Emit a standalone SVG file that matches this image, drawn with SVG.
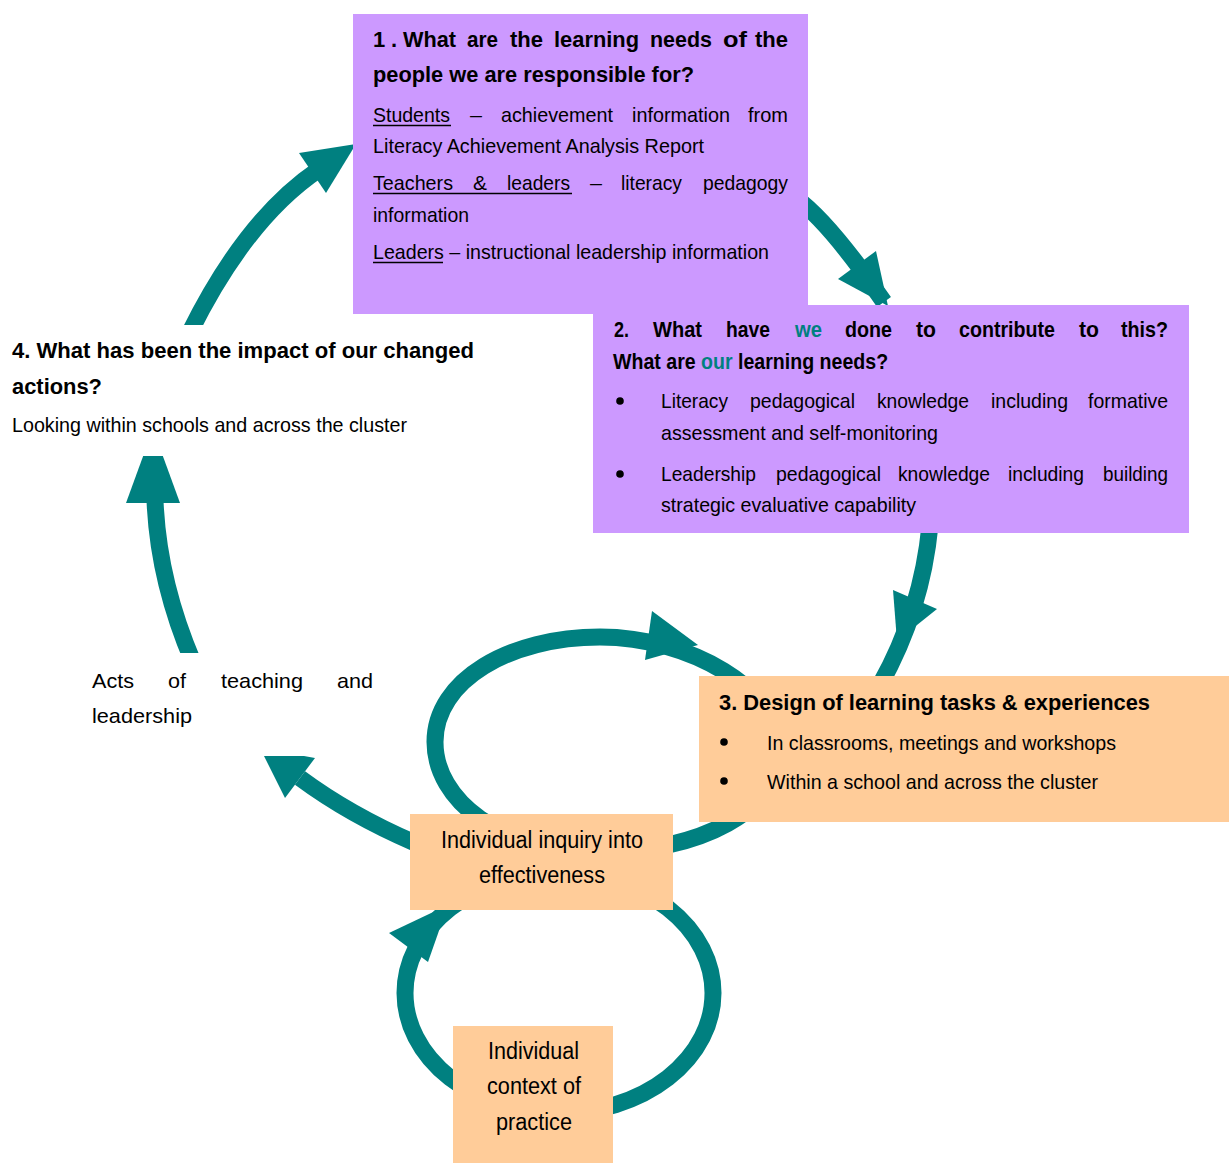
<svg xmlns="http://www.w3.org/2000/svg" width="1229" height="1163" viewBox="0 0 1229 1163">
<style>
text{font-family:"Liberation Sans Narrow","Liberation Sans",Arial,sans-serif;font-size:21px;fill:#000}
.b{font-weight:bold;font-size:22px}
.tl{fill:#008080}
.big{font-size:23px}
.shaft{fill:none;stroke:#008080;stroke-width:17}
.head{fill:#008080}
.purple{fill:#CC99FF}
.orange{fill:#FFCC99}
.ul{stroke:#000;stroke-width:1.5}
</style>
<rect width="1229" height="1163" fill="#fff"/>
<g id="connectors">
<path class="shaft" d="M190,332 Q246,219 318,170"/>
<polygon class="head" points="299,153 326,193 356,144"/>
<path class="shaft" d="M796,198 Q822,217 860,268 L884,302"/>
<polygon class="head" points="838,279 876,251 888,306"/>
<path class="shaft" d="M930,525 Q922,610 880,685"/>
<polygon class="head" points="893,590 937,609 897,641"/>
<path class="shaft" d="M435,742 C435,680 510,637 600,637 C690,637 780,690 780,750 C780,810 700,852 600,852 C500,852 435,800 435,742 Z"/>
<polygon class="head" points="652,611 645,660 698,645"/>
<ellipse class="shaft" cx="559" cy="993" rx="154" ry="120"/>
<polygon class="head" points="389,933 428,962 448,905"/>
<path class="shaft" d="M415,843 Q350,815 300,778"/>
<polygon class="head" points="285,798 315,758 260,748"/>
<path class="shaft" d="M193,662 Q158,580 155,500"/>
<polygon class="head" points="126,503 180,503 153,429"/>
</g>
<g id="n4">
<rect x="0" y="325" width="490" height="131" fill="#fff"/>
<text class="b" x="12" y="358" textLength="462" lengthAdjust="spacingAndGlyphs">4. What has been the impact of our changed</text>
<text class="b" x="12" y="394" textLength="90" lengthAdjust="spacingAndGlyphs">actions?</text>
<text x="12" y="432" textLength="395" lengthAdjust="spacingAndGlyphs">Looking within schools and across the cluster</text>
</g>
<g id="acts">
<rect x="80" y="653" width="310" height="103" fill="#fff"/>
<text x="92" y="688" textLength="42" lengthAdjust="spacingAndGlyphs">Acts</text>
<text x="168" y="688" textLength="18" lengthAdjust="spacingAndGlyphs">of</text>
<text x="221" y="688" textLength="82" lengthAdjust="spacingAndGlyphs">teaching</text>
<text x="337" y="688" textLength="36" lengthAdjust="spacingAndGlyphs">and</text>
<text x="92" y="723" textLength="100" lengthAdjust="spacingAndGlyphs">leadership</text>
</g>
<g id="n1">
<rect class="purple" x="353" y="14" width="455" height="300"/>
<text class="b" x="373" y="47" textLength="24" lengthAdjust="spacing">1.</text>
<text class="b" x="403" y="47" textLength="53" lengthAdjust="spacingAndGlyphs">What</text>
<text class="b" x="467" y="47" textLength="31" lengthAdjust="spacingAndGlyphs">are</text>
<text class="b" x="510" y="47" textLength="33" lengthAdjust="spacingAndGlyphs">the</text>
<text class="b" x="554" y="47" textLength="85" lengthAdjust="spacingAndGlyphs">learning</text>
<text class="b" x="650" y="47" textLength="62" lengthAdjust="spacingAndGlyphs">needs</text>
<text class="b" x="723" y="47" textLength="24" lengthAdjust="spacingAndGlyphs">of</text>
<text class="b" x="755" y="47" textLength="33" lengthAdjust="spacingAndGlyphs">the</text>
<text class="b" x="373" y="82" textLength="321" lengthAdjust="spacingAndGlyphs">people we are responsible for?</text>
<text x="373" y="122" textLength="77" lengthAdjust="spacingAndGlyphs">Students</text>
<line class="ul" x1="373" y1="125.5" x2="451" y2="125.5"/>
<text x="470" y="122" textLength="12" lengthAdjust="spacingAndGlyphs">–</text>
<text x="501" y="122" textLength="112" lengthAdjust="spacingAndGlyphs">achievement</text>
<text x="632" y="122" textLength="98" lengthAdjust="spacingAndGlyphs">information</text>
<text x="748" y="122" textLength="40" lengthAdjust="spacingAndGlyphs">from</text>
<text x="373" y="153" textLength="331" lengthAdjust="spacingAndGlyphs">Literacy Achievement Analysis Report</text>
<text x="373" y="190" textLength="80" lengthAdjust="spacingAndGlyphs">Teachers</text>
<text x="473" y="190" textLength="14" lengthAdjust="spacingAndGlyphs">&amp;</text>
<text x="507" y="190" textLength="63" lengthAdjust="spacingAndGlyphs">leaders</text>
<line class="ul" x1="373" y1="193.5" x2="572" y2="193.5"/>
<text x="590" y="190" textLength="12" lengthAdjust="spacingAndGlyphs">–</text>
<text x="621" y="190" textLength="61" lengthAdjust="spacingAndGlyphs">literacy</text>
<text x="703" y="190" textLength="85" lengthAdjust="spacingAndGlyphs">pedagogy</text>
<text x="373" y="222" textLength="96" lengthAdjust="spacingAndGlyphs">information</text>
<text x="373" y="259" textLength="396" lengthAdjust="spacingAndGlyphs">Leaders – instructional leadership information</text>
<line class="ul" x1="373" y1="262.5" x2="443" y2="262.5"/>
</g>
<g id="n2">
<rect class="purple" x="593" y="305" width="596" height="228"/>
<text class="b" x="614" y="337" textLength="15" lengthAdjust="spacingAndGlyphs">2.</text>
<text class="b" x="653" y="337" textLength="49" lengthAdjust="spacingAndGlyphs">What</text>
<text class="b" x="726" y="337" textLength="44" lengthAdjust="spacingAndGlyphs">have</text>
<text class="b tl" x="795" y="337" textLength="27" lengthAdjust="spacingAndGlyphs">we</text>
<text class="b" x="845" y="337" textLength="47" lengthAdjust="spacingAndGlyphs">done</text>
<text class="b" x="916" y="337" textLength="20" lengthAdjust="spacingAndGlyphs">to</text>
<text class="b" x="959" y="337" textLength="96" lengthAdjust="spacingAndGlyphs">contribute</text>
<text class="b" x="1079" y="337" textLength="20" lengthAdjust="spacingAndGlyphs">to</text>
<text class="b" x="1121" y="337" textLength="47" lengthAdjust="spacingAndGlyphs">this?</text>
<text class="b" transform="translate(613,369) scale(0.89,1)" x="0" y="0">What are <tspan class="tl">our</tspan> learning needs?</text>
<circle cx="620" cy="401" r="3.8"/>
<text x="661" y="408" textLength="67" lengthAdjust="spacingAndGlyphs">Literacy</text>
<text x="750" y="408" textLength="105" lengthAdjust="spacingAndGlyphs">pedagogical</text>
<text x="877" y="408" textLength="92" lengthAdjust="spacingAndGlyphs">knowledge</text>
<text x="991" y="408" textLength="77" lengthAdjust="spacingAndGlyphs">including</text>
<text x="1088" y="408" textLength="80" lengthAdjust="spacingAndGlyphs">formative</text>
<text x="661" y="440" textLength="277" lengthAdjust="spacingAndGlyphs">assessment and self-monitoring</text>
<circle cx="620" cy="474" r="3.8"/>
<text x="661" y="481" textLength="95" lengthAdjust="spacingAndGlyphs">Leadership</text>
<text x="776" y="481" textLength="105" lengthAdjust="spacingAndGlyphs">pedagogical</text>
<text x="898" y="481" textLength="92" lengthAdjust="spacingAndGlyphs">knowledge</text>
<text x="1008" y="481" textLength="76" lengthAdjust="spacingAndGlyphs">including</text>
<text x="1103" y="481" textLength="65" lengthAdjust="spacingAndGlyphs">building</text>
<text x="661" y="512" textLength="255" lengthAdjust="spacingAndGlyphs">strategic evaluative capability</text>
</g>
<g id="n3">
<rect class="orange" x="699" y="676" width="530" height="146"/>
<text class="b" x="719" y="710" textLength="431" lengthAdjust="spacingAndGlyphs">3. Design of learning tasks &amp; experiences</text>
<circle cx="724" cy="742" r="3.8"/>
<text x="767" y="750" textLength="349" lengthAdjust="spacingAndGlyphs">In classrooms, meetings and workshops</text>
<circle cx="724" cy="781" r="3.8"/>
<text x="767" y="789" textLength="331" lengthAdjust="spacingAndGlyphs">Within a school and across the cluster</text>
</g>
<g id="inquiry">
<rect class="orange" x="410" y="814" width="263" height="96"/>
<text class="big" x="441" y="848" textLength="202" lengthAdjust="spacingAndGlyphs">Individual inquiry into</text>
<text class="big" x="479" y="883" textLength="126" lengthAdjust="spacingAndGlyphs">effectiveness</text>
</g>
<g id="context">
<rect class="orange" x="453" y="1026" width="160" height="137"/>
<text class="big" x="488" y="1059" textLength="91" lengthAdjust="spacingAndGlyphs">Individual</text>
<text class="big" x="487" y="1094" textLength="94" lengthAdjust="spacingAndGlyphs">context of</text>
<text class="big" x="496" y="1130" textLength="76" lengthAdjust="spacingAndGlyphs">practice</text>
</g>
</svg>
